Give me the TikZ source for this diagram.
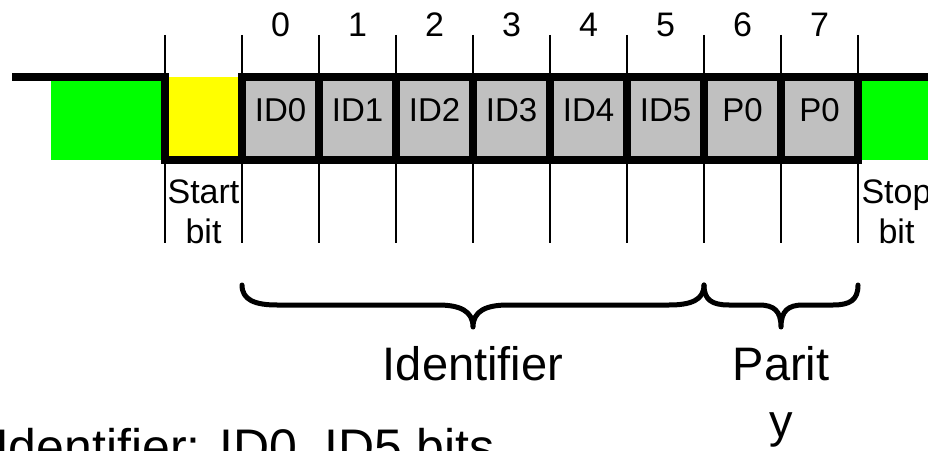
\documentclass[tikz,border=0pt]{standalone}
\usepackage{fontspec}
\setmainfont{Liberation Sans}
\begin{document}
\begin{tikzpicture}[x=1pt,y=1pt]
\definecolor{fillColor}{RGB}{255,255,255}
\path[use as bounding box,fill=fillColor] (0,0) rectangle (928,450);
\begin{scope}
\path[clip] (  0.00,  0.00) rectangle (928.00,450.00);
\definecolor{fillColor}{RGB}{0,255,0}

\path[fill=fillColor] ( 51.00,290.00) rectangle (165.00,373.00);

\path[fill=fillColor] (858.00,290.00) rectangle (928.00,373.00);
\definecolor{fillColor}{RGB}{255,255,0}

\path[fill=fillColor] (165.00,290.00) rectangle (242.00,373.00);
\definecolor{fillColor}{RGB}{192,192,192}

\path[fill=fillColor] (242.00,290.00) rectangle (858.00,373.00);
\definecolor{drawColor}{RGB}{0,0,0}

\path[draw=drawColor,line width= 1.5pt] (165.00,415.00) --
	(165.00,207.00);

\path[draw=drawColor,line width= 1.5pt] (242.00,415.00) --
	(242.00,207.00);

\path[draw=drawColor,line width= 1.5pt] (319.00,415.00) --
	(319.00,207.00);

\path[draw=drawColor,line width= 1.5pt] (396.00,415.00) --
	(396.00,207.00);

\path[draw=drawColor,line width= 1.5pt] (473.00,415.00) --
	(473.00,207.00);

\path[draw=drawColor,line width= 1.5pt] (550.00,415.00) --
	(550.00,207.00);

\path[draw=drawColor,line width= 1.5pt] (627.00,415.00) --
	(627.00,207.00);

\path[draw=drawColor,line width= 1.5pt] (704.00,415.00) --
	(704.00,207.00);

\path[draw=drawColor,line width= 1.5pt] (781.00,415.00) --
	(781.00,207.00);

\path[draw=drawColor,line width= 1.5pt] (858.00,415.00) --
	(858.00,207.00);
\end{scope}
\begin{scope}
\path[clip] (  0.00,  0.00) rectangle (928.00,450.00);
\definecolor{drawColor}{RGB}{0,0,0}

\path[draw=drawColor,line width= 7.5pt] ( 12.00,373.00) --
	(165.00,373.00) --
	(165.00,290.00) --
	(858.00,290.00);

\path[draw=drawColor,line width= 7.5pt] (238.25,373.00) --
	(928.00,373.00);

\path[draw=drawColor,line width= 7.5pt,line cap=rect] (242.00,373.00) --
	(242.00,290.00);

\path[draw=drawColor,line width= 7.5pt,line cap=rect] (319.00,373.00) --
	(319.00,290.00);

\path[draw=drawColor,line width= 7.5pt,line cap=rect] (396.00,373.00) --
	(396.00,290.00);

\path[draw=drawColor,line width= 7.5pt,line cap=rect] (473.00,373.00) --
	(473.00,290.00);

\path[draw=drawColor,line width= 7.5pt,line cap=rect] (550.00,373.00) --
	(550.00,290.00);

\path[draw=drawColor,line width= 7.5pt,line cap=rect] (627.00,373.00) --
	(627.00,290.00);

\path[draw=drawColor,line width= 7.5pt,line cap=rect] (704.00,373.00) --
	(704.00,290.00);

\path[draw=drawColor,line width= 7.5pt,line cap=rect] (781.00,373.00) --
	(781.00,290.00);

\path[draw=drawColor,line width= 7.5pt,line cap=rect] (858.00,373.00) --
	(858.00,290.00);
\end{scope}
\begin{scope}
\path[clip] (  0.00,  0.00) rectangle (928.00,450.00);
\definecolor{drawColor}{RGB}{0,0,0}

\path[draw=drawColor,line width= 5.0pt,line join=round,line cap=round] (242.00,165.00) ..
	controls (242.00,150.00) and (255.00,145.00) .. (277.00,145.00) --
	(438.00,145.00) ..
	controls (460.00,145.00) and (473.00,139.00) .. (473.00,123.00) ..
	controls (473.00,139.00) and (486.00,145.00) .. (508.00,145.00) --
	(669.00,145.00) ..
	controls (691.00,145.00) and (704.00,150.00) .. (704.00,165.00);

\path[draw=drawColor,line width= 5.0pt,line join=round,line cap=round] (704.00,165.00) ..
	controls (704.00,150.00) and (712.00,145.00) .. (729.00,145.00) --
	(759.00,145.00) ..
	controls (774.00,145.00) and (781.00,139.00) .. (781.00,123.00) ..
	controls (781.00,139.00) and (788.00,145.00) .. (803.00,145.00) --
	(833.00,145.00) ..
	controls (850.00,145.00) and (858.00,150.00) .. (858.00,165.00);
\end{scope}
\begin{scope}
\path[clip] (  0.00,  0.00) rectangle (928.00,450.00);
\definecolor{drawColor}{RGB}{0,0,0}

\node[text=drawColor,anchor=base,inner sep=0pt, outer sep=0pt, scale=  3.40] (num0) at (280.50,413.00) {0};

\node[text=drawColor,anchor=base,inner sep=0pt, outer sep=0pt, scale=  3.40] (num1) at (357.50,413.00) {1};

\node[text=drawColor,anchor=base,inner sep=0pt, outer sep=0pt, scale=  3.40] (num2) at (434.50,413.00) {2};

\node[text=drawColor,anchor=base,inner sep=0pt, outer sep=0pt, scale=  3.40] (num3) at (511.50,413.00) {3};

\node[text=drawColor,anchor=base,inner sep=0pt, outer sep=0pt, scale=  3.40] (num4) at (588.50,413.00) {4};

\node[text=drawColor,anchor=base,inner sep=0pt, outer sep=0pt, scale=  3.40] (num5) at (665.50,413.00) {5};

\node[text=drawColor,anchor=base,inner sep=0pt, outer sep=0pt, scale=  3.40] (num6) at (742.50,413.00) {6};

\node[text=drawColor,anchor=base,inner sep=0pt, outer sep=0pt, scale=  3.40] (num7) at (819.50,413.00) {7};
\end{scope}
\begin{scope}
\path[clip] (  0.00,  0.00) rectangle (928.00,450.00);
\definecolor{drawColor}{RGB}{0,0,0}

\node[text=drawColor,anchor=base,inner sep=0pt, outer sep=0pt, scale=  3.30] (bit0) at (280.50,328.00) {ID0};

\node[text=drawColor,anchor=base,inner sep=0pt, outer sep=0pt, scale=  3.30] (bit1) at (357.50,328.00) {ID1};

\node[text=drawColor,anchor=base,inner sep=0pt, outer sep=0pt, scale=  3.30] (bit2) at (434.50,328.00) {ID2};

\node[text=drawColor,anchor=base,inner sep=0pt, outer sep=0pt, scale=  3.30] (bit3) at (511.50,328.00) {ID3};

\node[text=drawColor,anchor=base,inner sep=0pt, outer sep=0pt, scale=  3.30] (bit4) at (588.50,328.00) {ID4};

\node[text=drawColor,anchor=base,inner sep=0pt, outer sep=0pt, scale=  3.30] (bit5) at (665.50,328.00) {ID5};

\node[text=drawColor,anchor=base,inner sep=0pt, outer sep=0pt, scale=  3.30] (bit6) at (742.50,328.00) {P0};

\node[text=drawColor,anchor=base,inner sep=0pt, outer sep=0pt, scale=  3.30] (bit7) at (819.50,328.00) {P0};
\end{scope}
\begin{scope}
\path[clip] (  0.00,  0.00) rectangle (928.00,450.00);
\definecolor{drawColor}{RGB}{0,0,0}

\node[text=drawColor,anchor=base,inner sep=0pt, outer sep=0pt, scale=  3.40] (start1) at (203.50,246.00) {Start};

\node[text=drawColor,anchor=base,inner sep=0pt, outer sep=0pt, scale=  3.40] (start2) at (203.50,206.00) {bit};

\node[text=drawColor,anchor=base,inner sep=0pt, outer sep=0pt, scale=  3.40] (stop1) at (896.50,246.00) {Stop};

\node[text=drawColor,anchor=base,inner sep=0pt, outer sep=0pt, scale=  3.40] (stop2) at (896.50,206.00) {bit};
\end{scope}
\begin{scope}
\path[clip] (  0.00,  0.00) rectangle (928.00,450.00);
\definecolor{drawColor}{RGB}{0,0,0}

\node[text=drawColor,anchor=base,inner sep=0pt, outer sep=0pt, scale=  4.70] (ident) at (473.00, 70.00) {Identifier};

\node[text=drawColor,anchor=base,inner sep=0pt, outer sep=0pt, scale=  4.70] (parity1) at (781.00, 70.00) {Parit};

\node[text=drawColor,anchor=base,inner sep=0pt, outer sep=0pt, scale=  4.70] (parity2) at (781.00, 13.00) {y};

\node[text=drawColor,anchor=base west,inner sep=0pt, outer sep=0pt, scale=  5.00] (note) at ( -5.00,-14.00) {Identifier: ID0..ID5 bits};
\end{scope}
\end{tikzpicture}
\end{document}
